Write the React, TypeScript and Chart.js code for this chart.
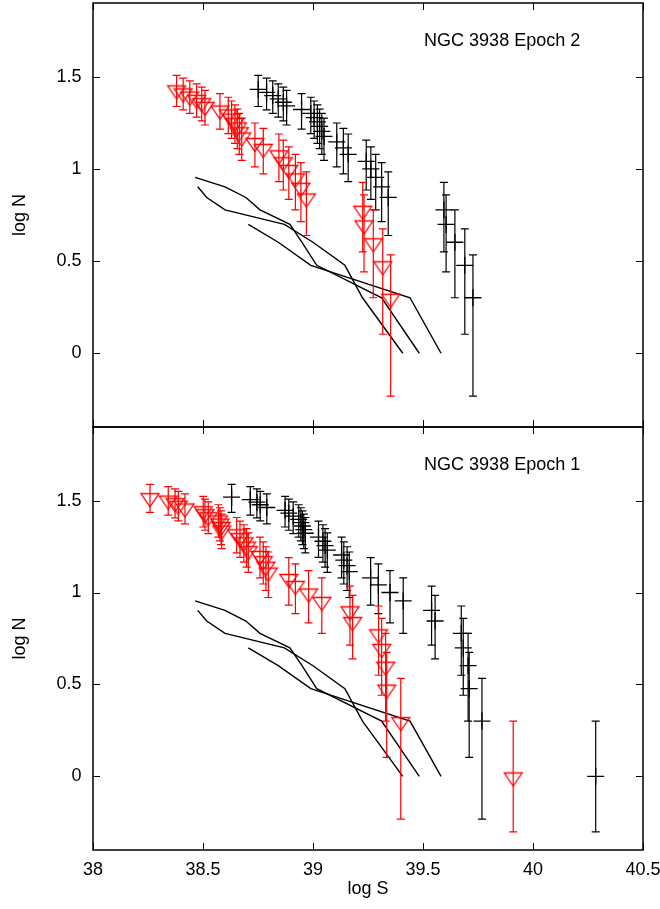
import React, { useEffect, useRef } from "react";
import { Chart, registerables } from "chart.js";

Chart.register(...registerables);

// ---------- data ----------
const xTicks = [38, 38.5, 39, 39.5, 40, 40.5];
const yTicks = [0, 0.5, 1, 1.5];

// Epoch 2 (top panel): cumulative counts N and log S of each source
const topBlackN = [2, 3, 4, 5, 6, 7, 8, 9, 10, 11, 12, 13, 14, 15, 16, 17, 18, 19, 20, 21, 22, 23, 24, 25, 26, 27];
const topBlackS = [39.727, 39.69, 39.645, 39.605, 39.595, 39.342, 39.312, 39.285, 39.263, 39.242, 39.16, 39.138, 39.108, 39.05, 39.04, 39.03, 39.02, 39.005, 38.99, 38.948, 38.88, 38.865, 38.842, 38.817, 38.789, 38.751];
const topRedN = [2, 3, 4, 5, 6, 7, 8, 9, 10, 11, 12, 13, 14, 15, 16, 17, 18, 19, 20, 21, 22, 23, 24, 25, 26, 27];
const topRedS = [39.353, 39.317, 39.274, 39.232, 39.226, 38.97, 38.945, 38.92, 38.89, 38.865, 38.845, 38.774, 38.736, 38.676, 38.665, 38.656, 38.645, 38.63, 38.615, 38.577, 38.509, 38.494, 38.471, 38.44, 38.41, 38.38];

// Epoch 1 (bottom panel)
const botBlackN = [1, 2, 3, 4, 5, 6, 7, 8, 9, 10, 11, 12, 13, 14, 15, 16, 17, 18, 19, 20, 21, 22, 23, 24, 25, 26, 27, 28, 29, 30, 31, 32, 33];
const botBlackS = [40.285, 39.768, 39.71, 39.705, 39.683, 39.674, 39.555, 39.539, 39.41, 39.35, 39.297, 39.262, 39.165, 39.155, 39.14, 39.13, 39.065, 39.055, 39.045, 39.025, 38.965, 38.958, 38.952, 38.945, 38.935, 38.91, 38.89, 38.873, 38.79, 38.76, 38.745, 38.715, 38.63];
const botRedN = [1, 2, 3, 4, 5, 6, 7, 8, 9, 10, 11, 12, 13, 14, 15, 16, 17, 18, 19, 20, 21, 22, 23, 24, 25, 26, 27, 28, 29, 30, 31, 32, 33];
const botRedS = [39.91, 39.399, 39.335, 39.33, 39.312, 39.298, 39.18, 39.168, 39.04, 38.98, 38.92, 38.89, 38.797, 38.786, 38.774, 38.759, 38.706, 38.698, 38.686, 38.668, 38.653, 38.585, 38.582, 38.577, 38.57, 38.524, 38.509, 38.501, 38.418, 38.388, 38.373, 38.342, 38.259];

// model curves (same in both panels)
const curveAN = [8, 7, 6, 5, 4, 3, 2, 1];
const curveAS = [38.476, 38.517, 38.6, 38.87, 39.0, 39.145, 39.225, 39.408];
const curveBN = [9, 8, 7, 6, 5, 4, 3, 2, 1];
const curveBS = [38.464, 38.6, 38.695, 38.759, 38.895, 38.95, 39.017, 39.312, 39.483];
const curveCN = [5, 4, 3, 2, 1];
const curveCS = [38.706, 38.842, 38.99, 39.441, 39.582];

const FONT = "'Liberation Sans', Arial, Helvetica, sans-serif";
const RED = "#ff0000";
const BLACK = "#000000";

// ---------- helpers ----------
function pts(S: number[], N: number[]) {
  return S.map((s, i) => {
    const n = N[i];
    const sq = Math.sqrt(n);
    return {
      x: s,
      y: Math.log10(n),
      hi: Math.log10(n + sq),
      lo: n > 1 ? Math.log10(n - sq) : -Math.log10(2),
    };
  });
}
function line(S: number[], N: number[]) {
  return S.map((s, i) => ({ x: s, y: Math.log10(N[i]) }));
}

function makeTriangle(color: string) {
  const c = document.createElement("canvas");
  c.width = 22;
  c.height = 22;
  const g = c.getContext("2d")!;
  g.strokeStyle = color;
  g.lineWidth = 1.3;
  const cx = 11, cy = 11;
  g.beginPath();
  g.moveTo(cx - 9, cy - 3.5);
  g.lineTo(cx + 9, cy - 3.5);
  g.lineTo(cx, cy + 9.5);
  g.closePath();
  g.stroke();
  return c;
}

const errorBarPlugin = {
  id: "errbars",
  beforeDatasetDraw(chart: any, args: any) {
    const ds = chart.data.datasets[args.index];
    if (!ds.errorBars) return;
    const { ctx } = chart;
    const xs = chart.scales.x, ys = chart.scales.y;
    ctx.save();
    ctx.strokeStyle = ds.borderColor;
    ctx.lineWidth = 1.2;
    ds.data.forEach((p: any) => {
      const px = xs.getPixelForValue(p.x);
      const yt = ys.getPixelForValue(p.hi);
      const yb = ys.getPixelForValue(p.lo);
      ctx.beginPath();
      ctx.moveTo(px, yt);
      ctx.lineTo(px, yb);
      ctx.moveTo(px - 4, yt);
      ctx.lineTo(px + 4, yt);
      ctx.moveTo(px - 4, yb);
      ctx.lineTo(px + 4, yb);
      ctx.stroke();
    });
    ctx.restore();
  },
};

const framePlugin = {
  id: "frame",
  afterDraw(chart: any) {
    const { ctx, chartArea } = chart;
    const { left, right, top, bottom } = chartArea;
    const xs = chart.scales.x, ys = chart.scales.y;
    ctx.save();
    ctx.strokeStyle = BLACK;
    ctx.lineWidth = 1;
    ctx.beginPath();
    xTicks.forEach((v) => {
      const px = Math.round(xs.getPixelForValue(v)) + 0.5;
      ctx.moveTo(px, bottom);
      ctx.lineTo(px, bottom - 7);
      ctx.moveTo(px, top);
      ctx.lineTo(px, top + 7);
    });
    yTicks.forEach((v) => {
      const py = Math.round(ys.getPixelForValue(v)) + 0.5;
      ctx.moveTo(left, py);
      ctx.lineTo(left + 7, py);
      ctx.moveTo(right, py);
      ctx.lineTo(right - 7, py);
    });
    ctx.stroke();
    ctx.lineWidth = 1.5;
    ctx.strokeRect(left, top, right - left, bottom - top);
    const label = chart.options.plugins.frame?.label;
    if (label) {
      ctx.fillStyle = BLACK;
      ctx.font = `18px ${FONT}`;
      ctx.textAlign = "left";
      ctx.textBaseline = "alphabetic";
      ctx.fillText(label, xs.getPixelForValue(39.505), ys.getPixelForValue(1.667));
    }
    ctx.restore();
  },
};

function makeConfig(opts: {
  blackS: number[]; blackN: number[]; redS: number[]; redN: number[];
  label: string; showX: boolean; tri: HTMLCanvasElement;
}): any {
  const lineDs = (S: number[], N: number[]) => ({
    type: "line",
    data: line(S, N),
    borderColor: BLACK,
    borderWidth: 1.4,
    pointRadius: 0,
    showLine: true,
    fill: false,
  });
  return {
    type: "scatter",
    data: {
      datasets: [
        {
          data: pts(opts.redS, opts.redN),
          borderColor: RED,
          backgroundColor: RED,
          pointStyle: opts.tri,
          pointRadius: 9,
          errorBars: true,
        },
        {
          data: pts(opts.blackS, opts.blackN),
          borderColor: BLACK,
          backgroundColor: BLACK,
          pointStyle: "cross",
          pointRadius: 8.5,
          borderWidth: 1.3,
          errorBars: true,
        },
        lineDs(curveAS, curveAN),
        lineDs(curveBS, curveBN),
        lineDs(curveCS, curveCN),
      ],
    },
    options: {
      responsive: false,
      animation: false,
      events: [],
      layout: {
        autoPadding: false,
        padding: { top: 3, right: 17, bottom: opts.showX ? 0 : 3, left: 0 },
      },
      plugins: {
        legend: { display: false },
        tooltip: { enabled: false },
        frame: { label: opts.label },
      },
      scales: {
        x: {
          type: "linear",
          min: 38,
          max: 40.5,
          display: opts.showX,
          afterBuildTicks: (s: any) => {
            s.ticks = xTicks.map((v) => ({ value: v }));
          },
          afterFit: (s: any) => {
            if (opts.showX) s.height = 59;
            s.paddingLeft = 0;
            s.paddingRight = 0;
            s.paddingTop = 0;
            s.paddingBottom = 0;
          },
          grid: { display: false, drawTicks: false },
          border: { display: false },
          ticks: {
            padding: 9,
            maxRotation: 0,
            autoSkip: false,
            color: BLACK,
            font: { family: FONT, size: 18 },
            callback: (v: number) => String(v),
          },
          title: {
            display: opts.showX,
            text: "log S",
            color: BLACK,
            font: { family: FONT, size: 18 },
            padding: { top: 0, bottom: 9.5 },
          },
        },
        y: {
          type: "linear",
          min: -0.4,
          max: 1.9,
          afterBuildTicks: (s: any) => {
            s.ticks = yTicks.map((v) => ({ value: v }));
          },
          afterFit: (s: any) => {
            s.width = 93;
            s.paddingLeft = 0;
            s.paddingRight = 0;
            s.paddingTop = 0;
            s.paddingBottom = 0;
          },
          grid: { display: false, drawTicks: false },
          border: { display: false },
          ticks: {
            padding: 11.5,
            autoSkip: false,
            color: BLACK,
            font: { family: FONT, size: 18 },
            callback: (v: number) => String(v),
          },
          title: {
            display: true,
            text: "log N",
            color: BLACK,
            font: { family: FONT, size: 18 },
            padding: { top: 9.7, bottom: 0 },
          },
        },
      },
    },
    plugins: [errorBarPlugin, framePlugin],
  };
}

export default function App() {
  const topRef = useRef<HTMLCanvasElement>(null);
  const botRef = useRef<HTMLCanvasElement>(null);

  useEffect(() => {
    const tri = makeTriangle(RED);
    const c1 = new Chart(
      topRef.current!,
      makeConfig({
        blackS: topBlackS, blackN: topBlackN, redS: topRedS, redN: topRedN,
        label: "NGC 3938 Epoch 2", showX: false, tri,
      })
    );
    const c2 = new Chart(
      botRef.current!,
      makeConfig({
        blackS: botBlackS, blackN: botBlackN, redS: botRedS, redN: botRedN,
        label: "NGC 3938 Epoch 1", showX: true, tri,
      })
    );
    return () => {
      c1.destroy();
      c2.destroy();
    };
  }, []);

  return (
    <div style={{ position: "absolute", left: 0, top: 0, width: 660, height: 909, background: "#fff" }}>
      <canvas ref={topRef} width={660} height={430} style={{ position: "absolute", left: 0, top: 0 }} />
      <canvas ref={botRef} width={660} height={485} style={{ position: "absolute", left: 0, top: 424 }} />
    </div>
  );
}
